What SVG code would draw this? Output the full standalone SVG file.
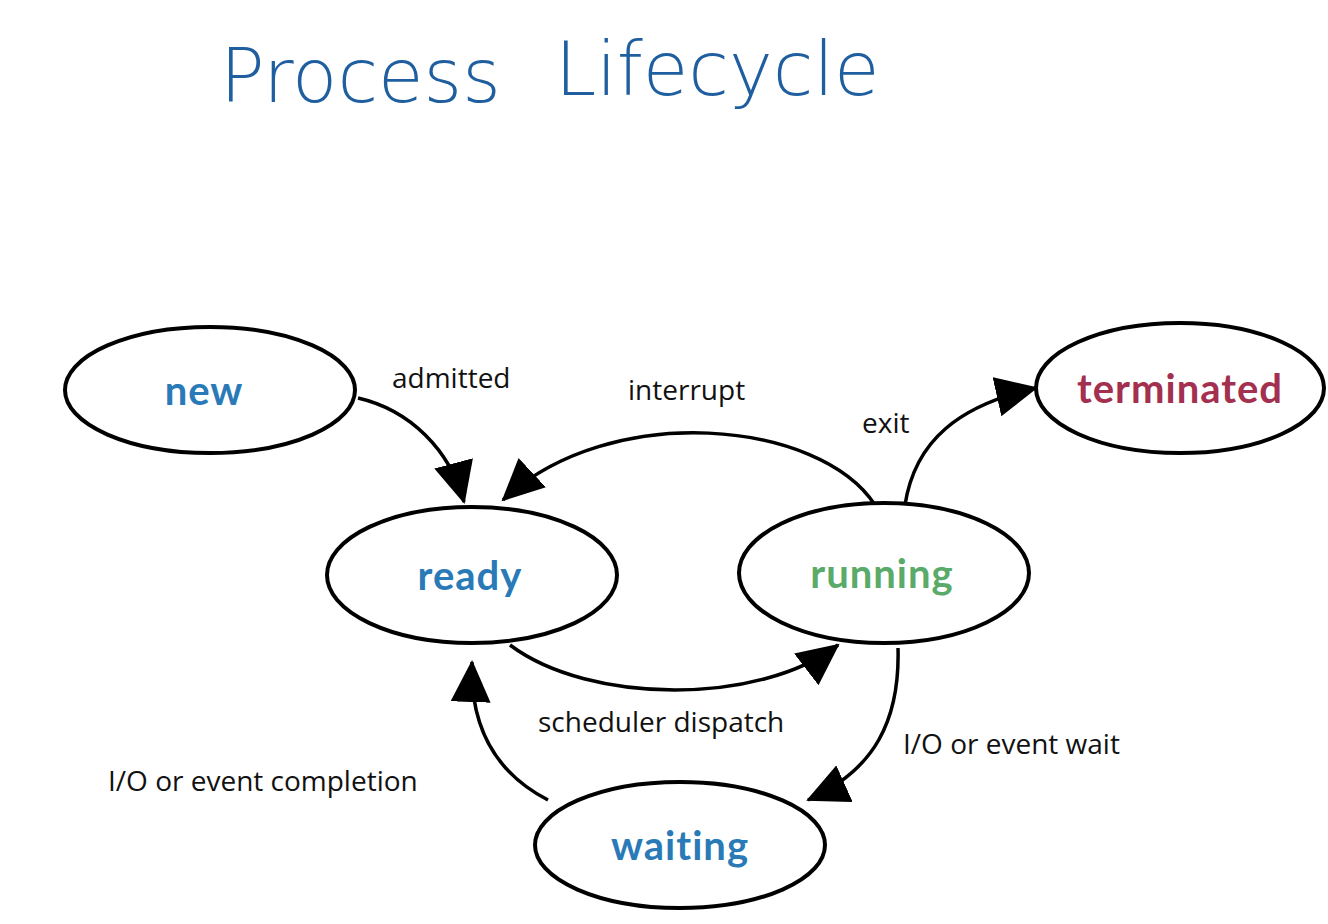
<svg xmlns="http://www.w3.org/2000/svg" width="1328" height="924" viewBox="0 0 1328 924">
<style>
.st ellipse{fill:#fff;stroke:#000;stroke-width:4}
.st text{font-family:"Lato","DejaVu Sans",sans-serif;font-weight:bold;font-size:40px;text-anchor:middle;letter-spacing:1px}
.lbl{font-family:"Open Sans","DejaVu Sans",sans-serif;font-size:28px;fill:#111}
.c path{fill:none;stroke:#000;stroke-width:3.5;marker-end:url(#ah)}
</style>
<defs>
<marker id="ah" markerUnits="userSpaceOnUse" markerWidth="46" markerHeight="40" refX="40" refY="20" orient="auto">
<path d="M0,0 L42,20 L0,40 Z" fill="#000"/>
</marker>
</defs>
<rect width="1328" height="924" fill="#fff"/>
<text x="220" y="102" font-family="'DejaVu Sans',sans-serif" font-size="74" fill="#1f5f9f" font-weight="300">Process</text>
<text x="555" y="95" font-family="'DejaVu Sans',sans-serif" font-size="74" fill="#1f5f9f" font-weight="300">Lifecycle</text>
<g class="c">
<path d="M358,398 C410,410 450,450 464,502"/>
<path d="M875,505 C820,420 610,400 503,500"/>
<path d="M905,505 C915,440 960,405 1036,388"/>
<path d="M510,645 C590,705 760,705 838,645"/>
<path d="M898,648 C900,720 875,770 808,800"/>
<path d="M548,800 C490,770 470,720 472,662"/>
</g>
<g class="lbl">
<text x="392" y="388" class="lbl">admitted</text>
<text x="628" y="400" class="lbl">interrupt</text>
<text x="862" y="433" class="lbl">exit</text>
<text x="538" y="732" class="lbl">scheduler dispatch</text>
<text x="903" y="754" class="lbl">I/O or event wait</text>
<text x="108" y="791" class="lbl">I/O or event completion</text>
</g>
<g id="new" class="st"><ellipse cx="210" cy="390" rx="145" ry="63"/><text x="204" y="405" fill="#2a7ab8">new</text></g>
<g id="terminated" class="st"><ellipse cx="1180" cy="388" rx="144" ry="65"/><text x="1180" y="403" fill="#a3304f">terminated</text></g>
<g id="ready" class="st"><ellipse cx="472" cy="575" rx="145" ry="68"/><text x="470" y="590" fill="#2a7ab8">ready</text></g>
<g id="running" class="st"><ellipse cx="884" cy="573" rx="145" ry="70"/><text x="882" y="588" fill="#5aaa6a">running</text></g>
<g id="waiting" class="st"><ellipse cx="680" cy="845" rx="145" ry="63"/><text x="680" y="860" fill="#2a7ab8">waiting</text></g>
</svg>
